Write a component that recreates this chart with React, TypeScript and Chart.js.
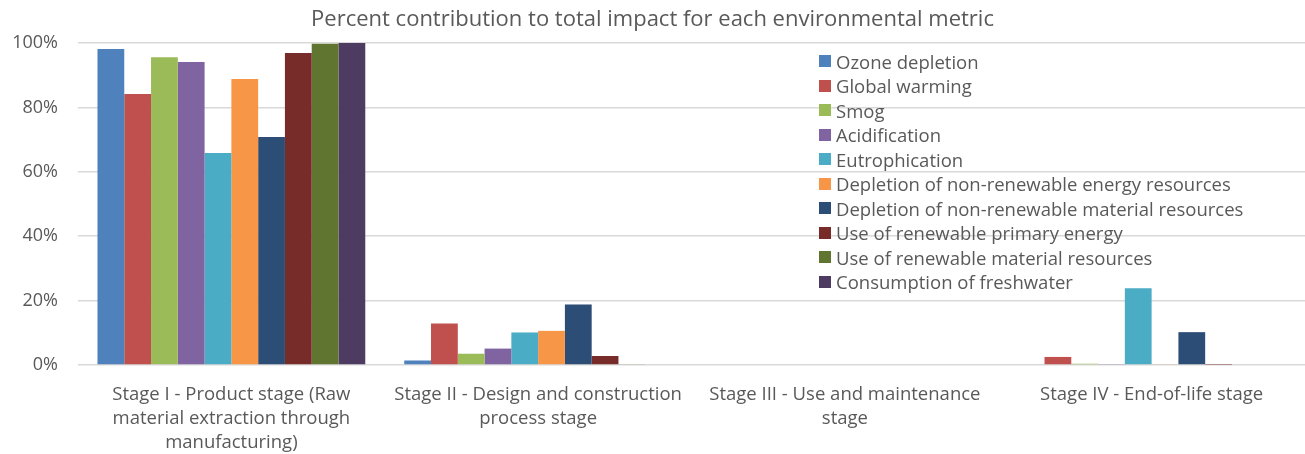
import React, { useEffect, useRef } from "react";
import { Chart, registerables } from "chart.js";

Chart.register(...registerables);

const categories: string[][] = [
  ["Stage I - Product stage (Raw", "material extraction through", "manufacturing)"],
  ["Stage II - Design and construction", "process stage"],
  ["Stage III - Use and maintenance", "stage"],
  ["Stage IV - End-of-life stage"],
];

const seriesNames: string[] = [
  "Ozone depletion",
  "Global warming",
  "Smog",
  "Acidification",
  "Eutrophication",
  "Depletion of non-renewable energy resources",
  "Depletion of non-renewable material resources",
  "Use of renewable primary energy",
  "Use of renewable material resources",
  "Consumption of freshwater",
];

const seriesColors: string[] = [
  "#4F81BD",
  "#C0504D",
  "#9BBB59",
  "#8064A2",
  "#4BACC6",
  "#F79646",
  "#2C4D75",
  "#772C2A",
  "#5F7530",
  "#4D3B62",
];

// values per series: [Stage I, Stage II, Stage III, Stage IV]
const ozoneDepletion = [98.1, 1.4, 0, 0];
const globalWarming = [84.2, 12.9, 0, 2.5];
const smog = [95.6, 3.5, 0, 0.4];
const acidification = [94.1, 5.1, 0, 0.3];
const eutrophication = [65.8, 10.1, 0, 23.8];
const depletionEnergy = [88.8, 10.6, 0, 0.2];
const depletionMaterial = [70.8, 18.8, 0, 10.2];
const renewableEnergy = [96.9, 2.8, 0, 0.1];
const renewableMaterial = [99.8, 0.2, 0, 0];
const freshwater = [100, 0, 0, 0];

const seriesValues: number[][] = [
  ozoneDepletion,
  globalWarming,
  smog,
  acidification,
  eutrophication,
  depletionEnergy,
  depletionMaterial,
  renewableEnergy,
  renewableMaterial,
  freshwater,
];

const yTicks = [0, 20, 40, 60, 80, 100];

const FONT = "'Open Sans', 'Noto Sans', sans-serif";
const TEXT = "#595959";

export default function App() {
  const ref = useRef<HTMLCanvasElement | null>(null);

  useEffect(() => {
    if (!ref.current) return;
    const chart = new Chart(ref.current, {
      type: "bar",
      data: {
        labels: categories,
        datasets: seriesNames.map((name, i) => ({
          label: name,
          data: seriesValues[i],
          backgroundColor: seriesColors[i],
          borderWidth: 0,
          categoryPercentage: 0.873,
          barPercentage: 1,
        })),
      },
      options: {
        animation: false,
        responsive: false,
        maintainAspectRatio: false,
        layout: { padding: { left: 0, right: 0, top: 0, bottom: 0 } },
        plugins: {
          legend: { display: false },
          tooltip: { enabled: false },
          title: {
            display: true,
            text: "Percent contribution to total impact for each environmental metric",
            color: TEXT,
            font: { family: FONT, size: 22, weight: "normal", lineHeight: 1.2 },
            padding: { top: 7, bottom: 9.6 },
          },
        },
        scales: {
          x: {
            grid: { display: false },
            border: { display: false },
            ticks: {
              color: TEXT,
              font: { family: FONT, size: 18.5, lineHeight: 1.3 },
              padding: 10,
              maxRotation: 0,
              autoSkip: false,
            },
            afterFit: (scale: any) => {
              scale.height = 89;
            },
          },
          y: {
            min: 0,
            max: 100,
            afterBuildTicks: (scale: any) => {
              scale.ticks = yTicks.map((v) => ({ value: v }));
            },
            grid: { color: "#D9D9D9", lineWidth: 1.5, drawTicks: false },
            border: { display: false },
            ticks: {
              color: TEXT,
              font: { family: FONT, size: 18 },
              padding: 20,
              callback: (v: any) => v + "%",
            },
            afterFit: (scale: any) => {
              scale.width = 78;
            },
          },
        },
      },
    });
    return () => chart.destroy();
  }, []);

  return (
    <div style={{ position: "fixed", left: 0, top: 0, width: 1305, height: 454, background: "#fff" }}>
      <canvas ref={ref} width={1305} height={454} style={{ width: 1305, height: 454, display: "block" }} />
      <div
        style={{
          position: "absolute",
          left: 819,
          top: 49,
          fontFamily: FONT,
          fontSize: 18.5,
          color: TEXT,
        }}
      >
        {seriesNames.map((name, i) => (
          <div key={name} style={{ display: "flex", alignItems: "center", height: 24.5, whiteSpace: "nowrap" }}>
            <span
              style={{
                display: "inline-block",
                width: 12,
                height: 12,
                background: seriesColors[i],
                marginRight: 5,
              }}
            />
            <span>{name}</span>
          </div>
        ))}
      </div>
    </div>
  );
}
